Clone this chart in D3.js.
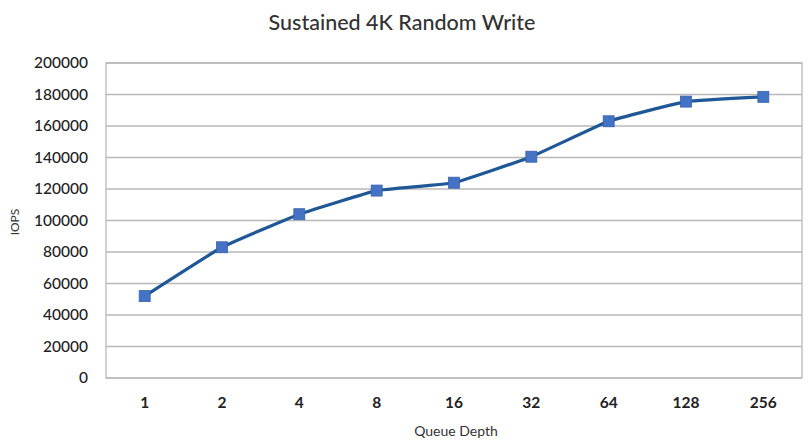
<!DOCTYPE html>
<html><head><meta charset="utf-8">
<script src="https://cdn.jsdelivr.net/npm/d3@7/dist/d3.min.js"></script>
<style>body{margin:0;background:#fff}svg{display:block}</style>
</head><body>
<script>
const categories = ["1","2","4","8","16","32","64","128","256"];
const iops = [52000, 83000, 104000, 119000, 124000, 140500, 163000, 175500, 178500];
const yTicks = [0,20000,40000,60000,80000,100000,120000,140000,160000,180000,200000];
const title = "Sustained 4K Random Write";
const xTitle = "Queue Depth";
const yTitle = "IOPS";

const W = 808, H = 442;
const m = {left:106, right:6, top:63, bottom:64};
const svg = d3.select("body").append("svg").attr("width",W).attr("height",H);
const font = "Lato, 'Open Sans', sans-serif";

const x = d3.scaleBand().domain(categories).range([m.left, W-m.right]);
const y = d3.scaleLinear().domain([0,200000]).range([H-m.bottom, m.top]);

// gridlines
svg.append("g").selectAll("line").data(yTicks).join("line")
  .attr("x1", m.left).attr("x2", W-m.right)
  .attr("y1", d=>y(d)).attr("y2", d=>y(d))
  .attr("stroke","#b8b8b8").attr("stroke-width",1.3);
// plot border
svg.append("rect").attr("x",m.left).attr("y",m.top)
  .attr("width",W-m.right-m.left).attr("height",H-m.bottom-m.top)
  .attr("fill","none").attr("stroke","#b8b8b8").attr("stroke-width",1.3);

// y axis labels
const yAxis = d3.axisLeft(y).tickValues(yTicks).tickSize(0).tickPadding(18).tickFormat(d3.format("d"));
const gy = svg.append("g").attr("transform",`translate(${m.left},0)`).call(yAxis);
gy.select(".domain").remove();
gy.selectAll("text").attr("font-family",font).attr("font-size",15.5).attr("font-weight",500).attr("fill","#222");

// x axis labels
const xAxis = d3.axisBottom(x).tickSize(0).tickPadding(19);
const gx = svg.append("g").attr("transform",`translate(0,${H-m.bottom})`).call(xAxis);
gx.select(".domain").remove();
gx.selectAll("text").attr("font-family",font).attr("font-size",15.5).attr("font-weight","bold").attr("fill","#222");

// line
const cx = d => x(d) + x.bandwidth()/2;
const line = d3.line().x((d,i)=>cx(categories[i])).y(d=>y(d)).curve(d3.curveCardinal.tension(0.7));
svg.append("path").datum(iops).attr("d",line).attr("fill","none")
  .attr("stroke","#1f5797").attr("stroke-width",3.2);
const s = 11;
svg.append("g").selectAll("rect").data(iops).join("rect")
  .attr("x",(d,i)=>cx(categories[i])-s/2).attr("y",d=>y(d)-s/2)
  .attr("width",s).attr("height",s).attr("fill","#4472c4").attr("stroke","#3a62ad").attr("stroke-width",0.8);

// titles
svg.append("text").attr("x",402).attr("y",30).attr("text-anchor","middle")
  .attr("font-family",font).attr("font-size",21.5).attr("font-weight",500).attr("fill","#333").text(title);
svg.append("text").attr("x",456).attr("y",436).attr("text-anchor","middle")
  .attr("font-family",font).attr("font-size",14).attr("fill","#333").text(xTitle);
svg.append("text").attr("transform","translate(19,222) rotate(-90)").attr("text-anchor","middle")
  .attr("font-family",font).attr("font-size",12).attr("fill","#333").text(yTitle);
</script>
</body></html>
